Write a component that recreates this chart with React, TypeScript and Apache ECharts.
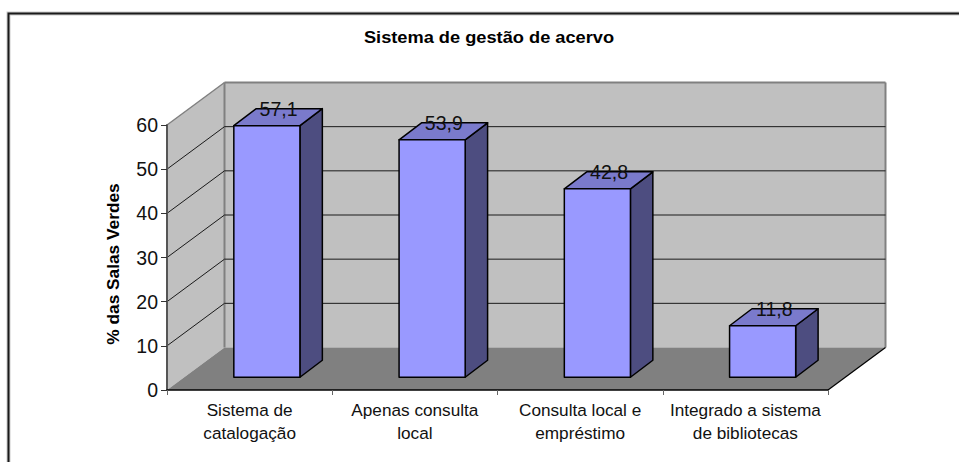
import React, { useEffect, useRef } from "react";
import * as echarts from "echarts";

const titleText = "Sistema de gestão de acervo";
const yAxisTitle = "% das Salas Verdes";
const categories = [
  "Sistema de\ncatalogação",
  "Apenas consulta\nlocal",
  "Consulta local e\nempréstimo",
  "Integrado a sistema\nde bibliotecas",
];
const values = [57.1, 53.9, 42.8, 11.8];
const gridValues = [10, 20, 30, 40, 50];

const FONT = "'Liberation Sans', Arial, sans-serif";
const DEPTH_X = 57.5;
const DEPTH_Y = 42.5;
const WALL = "#C0C0C0";
const FLOOR = "#808080";
const WALL_EDGE = "#808080";

export default function App() {
  const ref = useRef<HTMLDivElement>(null);
  useEffect(() => {
    const chart = echarts.init(ref.current!, undefined, { renderer: "svg" });
    const option: any = {
      animation: false,
      backgroundColor: "#FFFFFF",
      grid: { left: 167, right: 131, top: 125, bottom: 72, containLabel: false },
      xAxis: {
        type: "category",
        data: categories,
        z: 5,
        axisLine: { lineStyle: { color: "#000000", width: 1.5 } },
        axisTick: { show: true, length: 5, lineStyle: { color: "#666666", width: 1 } },
        axisLabel: {
          interval: 0,
          color: "#111111",
          fontFamily: FONT,
          fontSize: 17.2,
          lineHeight: 23,
          margin: 8,
        },
      },
      yAxis: {
        type: "value",
        min: 0,
        max: 60,
        interval: 10,
        z: 5,
        splitLine: { show: false },
        axisLine: { show: true, lineStyle: { color: "#555555", width: 2 } },
        axisTick: { show: true, length: 6, lineStyle: { color: "#333333", width: 1 } },
        axisLabel: { color: "#111111", fontFamily: FONT, fontSize: 19.5, margin: 9 },
      },
      graphic: [
        {
          type: "polyline",
          z: 0,
          silent: true,
          shape: { points: [[8.5, 462], [8.5, 13.5], [959, 13.5]] },
          style: { fill: "none", stroke: "#CCCCCC", lineWidth: 4 },
        },
        {
          type: "polyline",
          z: 1,
          silent: true,
          shape: { points: [[8.5, 462], [8.5, 13.5], [959, 13.5]] },
          style: { fill: "none", stroke: "#1A1A1A", lineWidth: 2 },
        },
        {
          type: "text",
          x: 489,
          y: 37,
          scaleX: 1.14,
          z: 10,
          silent: true,
          style: {
            text: titleText,
            fontFamily: FONT,
            fontWeight: "bold",
            fontSize: 16,
            fill: "#000000",
            align: "center",
            verticalAlign: "middle",
          },
        },
        {
          type: "text",
          x: 113,
          y: 264,
          rotation: Math.PI / 2,
          z: 10,
          silent: true,
          style: {
            text: yAxisTitle,
            fontFamily: FONT,
            fontWeight: "bold",
            fontSize: 17.3,
            fill: "#000000",
            align: "center",
            verticalAlign: "middle",
          },
        },
      ],
      series: [
        {
          type: "custom",
          name: "walls",
          z: 1,
          silent: true,
          data: [[0, 0]],
          renderItem: (params: any, api: any) => {
            const c = params.coordSys;
            const y0 = api.coord([0, 0])[1];
            const l = c.x;
            const r = c.x + c.width;
            const t = c.y;
            const poly = (points: number[][], style: any) => ({
              type: "polygon",
              shape: { points },
              style,
            });
            const line = (x1: number, y1: number, x2: number, y2: number, stroke: string, w: number) => ({
              type: "line",
              shape: { x1, y1, x2, y2 },
              style: { stroke, lineWidth: w },
            });
            return {
              type: "group",
              children: [
                poly(
                  [[l + DEPTH_X, t - DEPTH_Y], [r + DEPTH_X, t - DEPTH_Y], [r + DEPTH_X, y0 - DEPTH_Y], [l + DEPTH_X, y0 - DEPTH_Y]],
                  { fill: WALL }
                ),
                poly(
                  [[l, t], [l + DEPTH_X, t - DEPTH_Y], [l + DEPTH_X, y0 - DEPTH_Y], [l, y0]],
                  { fill: WALL }
                ),
                poly(
                  [[l, y0], [l + DEPTH_X, y0 - DEPTH_Y], [r + DEPTH_X, y0 - DEPTH_Y], [r, y0]],
                  { fill: FLOOR }
                ),
                line(l, t, l + DEPTH_X, t - DEPTH_Y, WALL_EDGE, 1.5),
                line(l + DEPTH_X, t - DEPTH_Y, r + DEPTH_X, t - DEPTH_Y, WALL_EDGE, 2),
                line(l + DEPTH_X, t - DEPTH_Y, l + DEPTH_X, y0 - DEPTH_Y, WALL_EDGE, 2),
                line(r + DEPTH_X, t - DEPTH_Y, r + DEPTH_X, y0 - DEPTH_Y, WALL_EDGE, 2),
                line(r, y0, r + DEPTH_X, y0 - DEPTH_Y, "#000000", 1.2),
              ],
            };
          },
        },
        {
          type: "custom",
          name: "gridlines",
          z: 2,
          silent: true,
          data: gridValues.map((v) => [0, v]),
          renderItem: (params: any, api: any) => {
            const c = params.coordSys;
            const y = api.coord([0, api.value(1)])[1];
            const l = c.x;
            const r = c.x + c.width;
            return {
              type: "polyline",
              shape: { points: [[l, y], [l + DEPTH_X, y - DEPTH_Y], [r + DEPTH_X, y - DEPTH_Y]] },
              style: { fill: "none", stroke: "#1A1A1A", lineWidth: 1 },
            };
          },
        },
        {
          type: "custom",
          name: "bars",
          z: 3,
          silent: true,
          data: categories.map((_, i) => [i, values[i]]),
          renderItem: (params: any, api: any) => {
            const idx = api.value(0);
            const val = api.value(1);
            const [cx, yTop] = api.coord([idx, val]);
            const yBase = api.coord([idx, 0])[1];
            const band = api.size([1, 0])[0];
            const w = band / 2.5;
            const x1 = cx - w / 2 + 0.3 * DEPTH_X;
            const x2 = x1 + w;
            const top = yTop - 0.3 * DEPTH_Y + 0.6;
            const bot = yBase - 0.3 * DEPTH_Y;
            const dx = 0.39 * DEPTH_X;
            const dy = 0.4 * DEPTH_Y;
            const stroke = { stroke: "#000000", lineWidth: 1.5, lineJoin: "round" };
            return {
              type: "group",
              children: [
                {
                  type: "polygon",
                  shape: { points: [[x2, top], [x2 + dx, top - dy], [x2 + dx, bot - dy], [x2, bot]] },
                  style: { fill: "#4D4D80", ...stroke },
                },
                {
                  type: "polygon",
                  shape: { points: [[x1, top], [x1 + dx, top - dy], [x2 + dx, top - dy], [x2, top]] },
                  style: { fill: "#7A7ACC", ...stroke },
                },
                {
                  type: "polygon",
                  shape: { points: [[x1, top], [x2, top], [x2, bot], [x1, bot]] },
                  style: { fill: "#9999FF", ...stroke },
                },
                {
                  type: "text",
                  x: (x1 + x2) / 2 + dx / 2 + 0.5,
                  y: top - dy,
                  style: {
                    text: String(val).replace(".", ","),
                    fontFamily: FONT,
                    fontSize: 19.5,
                    fill: "#111111",
                    align: "center",
                    verticalAlign: "middle",
                  },
                },
              ],
            };
          },
        },
      ],
    };
    chart.setOption(option);
    return () => chart.dispose();
  }, []);
  return (
    <div
      ref={ref}
      style={{ position: "fixed", left: 0, top: 0, width: 959, height: 462, background: "#fff" }}
    />
  );
}
